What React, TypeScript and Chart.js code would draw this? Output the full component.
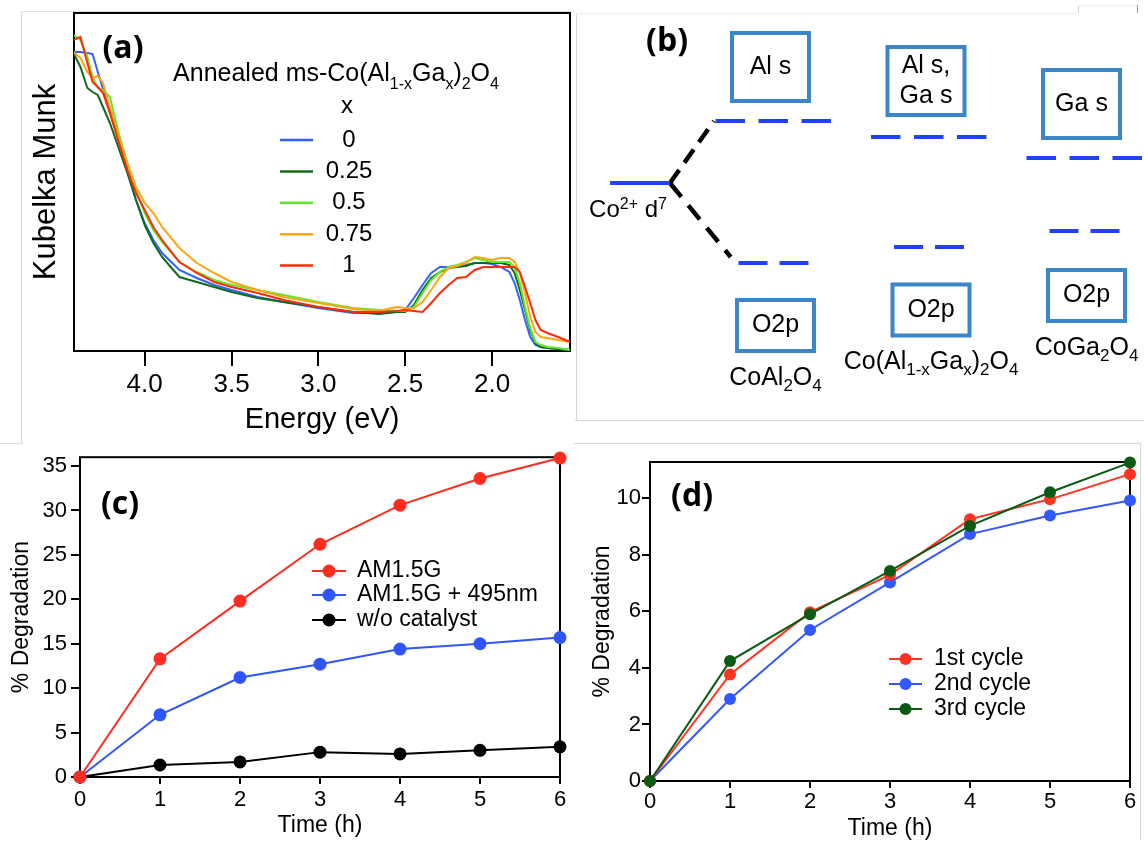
import React, { useEffect, useRef } from 'react';
import { Chart, registerables } from 'chart.js';

Chart.register(...registerables);

const SANS = '"Liberation Sans", Arial, Helvetica, sans-serif';
const BOLD = '"Open Sans", "Liberation Sans", Arial, sans-serif';
Chart.defaults.font.family = SANS;
Chart.defaults.color = '#000';

// ---------------- Panel (a): Kubelka-Munk spectra ----------------
const energies = [4.41, 4.37, 4.33, 4.30, 4.27, 4.24, 4.20, 4.15, 4.10, 4.05, 4.00, 3.95, 3.90, 3.80, 3.70, 3.60, 3.50, 3.35, 3.20, 3.00, 2.80, 2.65, 2.55, 2.50, 2.45, 2.40, 2.35, 2.30, 2.25, 2.20, 2.15, 2.10, 2.05, 2.00, 1.95, 1.90, 1.87, 1.84, 1.81, 1.78, 1.75, 1.72, 1.68, 1.62, 1.55];
const gaFractions = ['0', '0.25', '0.5', '0.75', '1'];
const kmX0 = [299, 299, 298, 297, 279, 262, 238, 211, 181, 151, 128, 111, 98, 81, 73, 66, 61, 54, 49, 43, 38, 38, 39, 41, 53, 66, 78, 84, 84, 85, 86, 88, 88, 87, 84, 79, 68, 51, 31, 14, 6, 4, 3, 2, 1];
const kmX025 = [298, 284, 263, 259, 256, 244, 228, 203, 178, 151, 126, 108, 94, 74, 69, 64, 59, 53, 49, 44, 39, 37, 39, 39, 46, 61, 73, 79, 83, 84, 85, 88, 88, 88, 88, 86, 78, 61, 41, 21, 8, 4, 3, 2, 1];
const kmX05 = [316, 311, 294, 274, 263, 261, 254, 218, 188, 161, 138, 121, 109, 89, 79, 71, 66, 61, 56, 49, 43, 41, 40, 40, 44, 58, 71, 79, 84, 86, 89, 93, 91, 89, 89, 89, 84, 68, 44, 23, 9, 6, 4, 3, 1];
const kmX075 = [299, 293, 279, 273, 275, 268, 244, 214, 188, 164, 148, 138, 124, 103, 88, 78, 69, 61, 54, 48, 42, 40, 44, 43, 43, 49, 61, 74, 83, 85, 88, 94, 93, 91, 93, 93, 89, 78, 58, 34, 19, 14, 13, 11, 9];
const kmX1 = [311, 314, 288, 269, 264, 258, 238, 209, 181, 158, 141, 124, 111, 89, 78, 69, 64, 58, 51, 44, 39, 39, 40, 41, 40, 39, 48, 58, 66, 73, 74, 81, 84, 84, 84, 84, 84, 79, 64, 48, 31, 21, 18, 14, 9];
const energyTicks = [4.0, 3.5, 3.0, 2.5, 2.0];
const energyRange = [1.551, 4.407];
const kmRange = [0, 338];

// ---------------- Panel (b): energy level scheme ----------------
const levelColumns = [1, 2, 3];
const cbOrbitals = [['Al s'], ['Al s,', 'Ga s'], ['Ga s']];
const vbOrbital = 'O2p';
const t2Levels = [3.1, 2.3, 1.25];
const eLevels = [-4.0, -3.2, -2.4];
const cbBoxLevels = [5.8, 5.1, 3.95];
const vbBoxLevels = [-7.125, -6.35, -5.625];
const d7Level = 0;

// ---------------- Panel (c) ----------------
const hours = [0, 1, 2, 3, 4, 5, 6];
const degAM15G = [0, 13.3, 19.8, 26.2, 30.6, 33.6, 35.9];
const degAM15G495 = [0, 7.0, 11.2, 12.7, 14.4, 15.0, 15.7];
const degNoCatalyst = [0, 1.35, 1.7, 2.8, 2.6, 3.0, 3.4];
const degTicksC = [0, 5, 10, 15, 20, 25, 30, 35];

// ---------------- Panel (d) ----------------
const cycle1 = [0, 3.77, 5.97, 7.29, 9.26, 9.96, 10.85];
const cycle2 = [0, 2.9, 5.34, 7.02, 8.73, 9.39, 9.92];
const cycle3 = [0, 4.24, 5.9, 7.43, 9.02, 10.21, 11.26];
const degTicksD = [0, 2, 4, 6, 8, 10];

// ---------------- helpers ----------------
type Part = { t: string; s?: 'sub' | 'sup' };

function drawRich(ctx: CanvasRenderingContext2D, parts: Part[], x: number, y: number, size: number, small: number, align: 'left' | 'center', subShift: number, supShift: number) {
  const fontFor = (p: Part) => `${p.s ? small : size}px ${SANS}`;
  let total = 0;
  for (const p of parts) { ctx.font = fontFor(p); total += ctx.measureText(p.t).width; }
  let cx = align === 'center' ? x - total / 2 : x;
  const base = y + size * 0.36;
  ctx.textAlign = 'left';
  ctx.textBaseline = 'alphabetic';
  ctx.fillStyle = '#000';
  for (const p of parts) {
    ctx.font = fontFor(p);
    const dy = p.s === 'sub' ? subShift : p.s === 'sup' ? -supShift : 0;
    ctx.fillText(p.t, cx, base + dy);
    cx += ctx.measureText(p.t).width;
  }
}

const boxPlugin = {
  id: 'plotBox',
  beforeDatasetsDraw(chart: any) {
    const { ctx, chartArea: a } = chart;
    ctx.save();
    ctx.strokeStyle = '#000';
    ctx.lineWidth = 2;
    ctx.strokeRect(a.left, a.top, a.right - a.left, a.bottom - a.top);
    ctx.restore();
  },
};

function panelLabel(text: string, x: number, y: number) {
  return {
    id: 'panelLabel' + text,
    afterDraw(chart: any) {
      const ctx = chart.ctx;
      ctx.save();
      ctx.font = `bold 32px ${BOLD}`;
      ctx.fillStyle = '#000';
      ctx.textAlign = 'center';
      ctx.textBaseline = 'middle';
      ctx.fillText(text, x, y);
      ctx.restore();
    },
  };
}

function lineLegend(items: { label: string; color: string }[], x0: number, x1: number, tx: number, ys: number[], r: number) {
  return {
    id: 'lineLegend',
    afterDraw(chart: any) {
      const ctx = chart.ctx;
      ctx.save();
      items.forEach((it, i) => {
        const y = ys[i];
        ctx.strokeStyle = it.color;
        ctx.lineWidth = 2;
        ctx.beginPath();
        ctx.moveTo(x0, y);
        ctx.lineTo(x1, y);
        ctx.stroke();
        ctx.fillStyle = it.color;
        ctx.beginPath();
        ctx.arc((x0 + x1) / 2, y, r, 0, Math.PI * 2);
        ctx.fill();
        ctx.fillStyle = '#000';
        ctx.font = `23px ${SANS}`;
        ctx.textAlign = 'left';
        ctx.textBaseline = 'middle';
        ctx.fillText(it.label, tx, y);
      });
      ctx.restore();
    },
  };
}

// ---------------- chart builders ----------------
const colorsA = ['#2f62ff', '#0f6a1a', '#5fe82a', '#ffa514', '#ff2a0a'];

function makeA(): any {
  const series = [kmX0, kmX025, kmX05, kmX075, kmX1];
  const legendA = {
    id: 'legendA',
    afterDraw(chart: any) {
      const ctx = chart.ctx;
      ctx.save();
      drawRich(ctx, [
        { t: 'Annealed ms-Co(Al' }, { t: '1-x', s: 'sub' }, { t: 'Ga' }, { t: 'x', s: 'sub' },
        { t: ')' }, { t: '2', s: 'sub' }, { t: 'O' }, { t: '4', s: 'sub' },
      ], 336, 72, 25, 16, 'center', 8, 8);
      ctx.font = `24px ${SANS}`;
      ctx.fillStyle = '#000';
      ctx.textAlign = 'center';
      ctx.textBaseline = 'middle';
      ctx.fillText('x', 347, 106);
      gaFractions.forEach((lab, i) => {
        const y = 140 + i * 31.4;
        ctx.strokeStyle = colorsA[i];
        ctx.lineWidth = 2.5;
        ctx.beginPath();
        ctx.moveTo(280, y);
        ctx.lineTo(313, y);
        ctx.stroke();
        ctx.fillStyle = '#000';
        ctx.fillText(lab, 349, y);
      });
      ctx.restore();
    },
  };
  return {
    type: 'line',
    data: {
      datasets: series.map((vals, i) => ({
        label: gaFractions[i],
        data: energies.map((e, j) => ({ x: e, y: vals[j] })),
        borderColor: colorsA[i],
        borderWidth: 2,
        pointRadius: 0,
        tension: 0,
        fill: false,
        order: 4 - i,
      })),
    },
    options: {
      responsive: false,
      animation: false,
      devicePixelRatio: 1,
      layout: { padding: { top: 13, right: 6, left: 0, bottom: 0 } },
      plugins: { legend: { display: false }, tooltip: { enabled: false } },
      scales: {
        x: {
          type: 'linear',
          reverse: true,
          min: energyRange[0],
          max: energyRange[1],
          afterBuildTicks: (s: any) => { s.ticks = energyTicks.map((v) => ({ value: v })); },
          ticks: { callback: (v: any) => Number(v).toFixed(1), font: { size: 26 }, color: '#000', padding: 3, maxRotation: 0, autoSkip: false },
          grid: { display: true, drawOnChartArea: false, drawTicks: true, tickLength: 15, color: '#000', lineWidth: 2 },
          border: { display: false },
          title: { display: true, text: 'Energy (eV)', font: { size: 29 }, color: '#000', padding: { top: 0, bottom: 3 } },
          afterFit: (s: any) => { s.height = 89; },
        },
        y: {
          type: 'linear',
          min: kmRange[0],
          max: kmRange[1],
          ticks: { display: false },
          grid: { display: false },
          border: { display: false },
          title: { display: true, text: 'Kubelka Munk', font: { size: 31 }, color: '#000', padding: { top: 28, bottom: 0 } },
          afterFit: (s: any) => { s.width = 74; },
        },
      },
    },
    plugins: [boxPlugin, panelLabel('(a)', 123, 49), legendA],
  };
}

const LEVEL_BLUE = '#2243f5';
const BOX_BLUE = '#3a86c8';
const T2_HALF = 0.373;
const E_HALF = 0.225;
const D7_START = -0.051;
const D7_END = 0.334;

function makeB(): any {
  const datasets: any[] = [];
  levelColumns.forEach((col, i) => {
    datasets.push({
      data: [{ x: col - T2_HALF, y: t2Levels[i] }, { x: col + T2_HALF, y: t2Levels[i] }],
      borderColor: LEVEL_BLUE, borderWidth: 4, borderDash: [29.5, 13.5], borderCapStyle: 'butt', pointRadius: 0, clip: false,
    });
    datasets.push({
      data: [{ x: col - E_HALF, y: eLevels[i] }, { x: col + E_HALF, y: eLevels[i] }],
      borderColor: LEVEL_BLUE, borderWidth: 4, borderDash: [29, 12], borderCapStyle: 'butt', pointRadius: 0, clip: false,
    });
  });
  datasets.push({
    data: [{ x: D7_START, y: d7Level }, { x: D7_END, y: d7Level }],
    borderColor: LEVEL_BLUE, borderWidth: 4, pointRadius: 0, clip: false,
  });
  datasets.push({
    data: [{ x: D7_END, y: d7Level }, { x: levelColumns[0] - T2_HALF - 0.01, y: t2Levels[0] }],
    borderColor: '#000', borderWidth: 4.5, borderDash: [16, 9], borderCapStyle: 'butt', pointRadius: 0, clip: false,
  });
  datasets.push({
    data: [{ x: D7_END, y: d7Level }, { x: levelColumns[0] - E_HALF - 0.05, y: eLevels[0] + 0.3 }],
    borderColor: '#000', borderWidth: 4.5, borderDash: [18, 11], borderCapStyle: 'butt', pointRadius: 0, clip: false,
  });

  const compoundParts: Part[][] = [
    [{ t: 'CoAl' }, { t: '2', s: 'sub' }, { t: 'O' }, { t: '4', s: 'sub' }],
    [{ t: 'Co(Al' }, { t: '1-x', s: 'sub' }, { t: 'Ga' }, { t: 'x', s: 'sub' }, { t: ')' }, { t: '2', s: 'sub' }, { t: 'O' }, { t: '4', s: 'sub' }],
    [{ t: 'CoGa' }, { t: '2', s: 'sub' }, { t: 'O' }, { t: '4', s: 'sub' }],
  ];

  const schemePlugin = {
    id: 'scheme',
    afterDatasetsDraw(chart: any) {
      const { ctx } = chart;
      const xs = chart.scales.x;
      const ys = chart.scales.y;
      ctx.save();
      levelColumns.forEach((col, i) => {
        const ux = xs.getPixelForValue(col) - 3;
        const uy = ys.getPixelForValue(cbBoxLevels[i]);
        ctx.strokeStyle = BOX_BLUE;
        ctx.lineWidth = 4;
        ctx.strokeRect(ux - 38.5, uy - 34, 77, 68);
        ctx.fillStyle = '#000';
        ctx.font = `25px ${SANS}`;
        ctx.textAlign = 'center';
        ctx.textBaseline = 'middle';
        const lines = cbOrbitals[i];
        lines.forEach((ln, k) => {
          ctx.fillText(ln, ux, uy + (k - (lines.length - 1) / 2) * 30);
        });
        const lx = xs.getPixelForValue(col) + 2;
        const ly = ys.getPixelForValue(vbBoxLevels[i]);
        ctx.strokeRect(lx - 38.5, ly - 25.5, 77, 51);
        ctx.fillText(vbOrbital, lx, ly);
        drawRich(ctx, compoundParts[i], lx, ly + 27.5 + 22.5, 25, 17, 'center', 6, 8);
      });
      const dx = xs.getPixelForValue(D7_START);
      drawRich(ctx, [{ t: 'Co' }, { t: '2+', s: 'sup' }, { t: ' d' }, { t: '7', s: 'sup' }], dx - 21, ys.getPixelForValue(d7Level) + 25, 24, 16, 'left', 6, 8);
      ctx.restore();
    },
  };

  return {
    type: 'line',
    data: { datasets },
    options: {
      responsive: false,
      animation: false,
      devicePixelRatio: 1,
      layout: { padding: 0 },
      plugins: { legend: { display: false }, tooltip: { enabled: false } },
      scales: {
        x: { type: 'linear', display: false, min: -0.2701, max: 3.3826 },
        y: { type: 'linear', display: false, min: -12.85, max: 9.15 },
      },
    },
    plugins: [schemePlugin, panelLabel('(b)', 91, 42)],
  };
}

function timeChart(opts: {
  series: { label: string; data: number[]; color: string; order: number }[];
  yMax: number; yTicks: number[]; pad: any; yWidth: number; xHeight: number;
  xTickLen: number; xTickPad: number; yTickLen: number; yTickPad: number;
  xTitlePad: number; yTitlePad: number; radius: number; extra: any[];
}): any {
  return {
    type: 'line',
    data: {
      datasets: opts.series.map((s) => ({
        label: s.label,
        data: hours.map((h, i) => ({ x: h, y: s.data[i] })),
        borderColor: s.color,
        backgroundColor: s.color,
        pointBackgroundColor: s.color,
        pointBorderColor: s.color,
        pointBorderWidth: 0,
        pointRadius: opts.radius,
        borderWidth: 2,
        tension: 0,
        clip: false,
        order: s.order,
      })),
    },
    options: {
      responsive: false,
      animation: false,
      devicePixelRatio: 1,
      layout: { padding: opts.pad },
      plugins: { legend: { display: false }, tooltip: { enabled: false } },
      scales: {
        x: {
          type: 'linear',
          min: hours[0],
          max: hours[hours.length - 1],
          afterBuildTicks: (s: any) => { s.ticks = hours.map((v) => ({ value: v })); },
          ticks: { font: { size: 22 }, color: '#000', padding: opts.xTickPad, maxRotation: 0, autoSkip: false },
          grid: { display: true, drawOnChartArea: false, drawTicks: true, tickLength: opts.xTickLen, color: '#000', lineWidth: 2 },
          border: { display: false },
          title: { display: true, text: 'Time (h)', font: { size: 23 }, color: '#000', padding: { top: 0, bottom: opts.xTitlePad } },
          afterFit: (s: any) => { s.height = opts.xHeight; },
        },
        y: {
          type: 'linear',
          min: 0,
          max: opts.yMax,
          afterBuildTicks: (s: any) => { s.ticks = opts.yTicks.map((v) => ({ value: v })); },
          ticks: { font: { size: 22 }, color: '#000', padding: opts.yTickPad, autoSkip: false },
          grid: { display: true, drawOnChartArea: false, drawTicks: true, tickLength: opts.yTickLen, color: '#000', lineWidth: 2 },
          border: { display: false },
          title: { display: true, text: '% Degradation', font: { size: 23 }, color: '#000', padding: { top: opts.yTitlePad, bottom: 0 } },
          afterFit: (s: any) => { s.width = opts.yWidth; },
        },
      },
    },
    plugins: [boxPlugin, ...opts.extra],
  };
}

function makeC(): any {
  const series = [
    { label: 'AM1.5G', data: degAM15G, color: '#ff2d1f', order: 0 },
    { label: 'AM1.5G + 495nm', data: degAM15G495, color: '#2f55ff', order: 1 },
    { label: 'w/o catalyst', data: degNoCatalyst, color: '#000000', order: 2 },
  ];
  return timeChart({
    series, yMax: 36, yTicks: degTicksC, pad: { top: 17, right: 16, left: 0, bottom: 0 },
    yWidth: 80, xHeight: 69, xTickLen: 7, xTickPad: 3, yTickLen: 9, yTickPad: 4,
    xTitlePad: 7, yTitlePad: 8, radius: 6.5,
    extra: [panelLabel('(c)', 120, 65), lineLegend(series, 312, 346, 357, [131, 155, 180], 6.5)],
  });
}

function makeD(): any {
  const series = [
    { label: '1st cycle', data: cycle1, color: '#ff3322', order: 1 },
    { label: '2nd cycle', data: cycle2, color: '#3358ff', order: 2 },
    { label: '3rd cycle', data: cycle3, color: '#0b5a14', order: 0 },
  ];
  return timeChart({
    series, yMax: 11.28, yTicks: degTicksD, pad: { top: 22, right: 14, left: 0, bottom: 0 },
    yWidth: 74, xHeight: 65, xTickLen: 7, xTickPad: 1, yTickLen: 8, yTickPad: 1,
    xTitlePad: 4, yTitlePad: 13, radius: 6,
    extra: [panelLabel('(d)', 116, 57), lineLegend(series, 313, 346, 358, [219, 244, 269], 6)],
  });
}

// ---------------- components ----------------
function ChartCanvas({ x, y, w, h, make }: { x: number; y: number; w: number; h: number; make: () => any }) {
  const ref = useRef<HTMLCanvasElement | null>(null);
  useEffect(() => {
    if (!ref.current) return;
    const chart = new Chart(ref.current, make());
    return () => chart.destroy();
  }, []);
  return (
    <div style={{ position: 'absolute', left: x, top: y, width: w, height: h }}>
      <canvas ref={ref} width={w} height={h} style={{ width: w, height: h, display: 'block' }} />
    </div>
  );
}

const frameLines: [number, number, number, number, string][] = [
  [21, 11, 21, 443, '#d9d9d9'],
  [21, 11, 575, 11, '#e2e2e2'],
  [0, 443, 22, 443, '#d9d9d9'],
  [576, 13, 576, 420, '#d6d6d6'],
  [576, 13, 1078, 13, '#ececec'],
  [1078, 5, 1078, 13, '#d0d0d0'],
  [1078, 5, 1137, 5, '#ececec'],
  [1137, 5, 1137, 13, '#9a9a9a'],
  [575, 420, 1144, 420, '#d6d6d6'],
  [574, 443, 1140, 443, '#d6d6d6'],
  [1140, 443, 1140, 840, '#d6d6d6'],
];

export default function App() {
  return (
    <div style={{ position: 'relative', width: 1144, height: 846, background: '#fff', overflow: 'hidden' }}>
      <style>{'body{margin:0;background:#fff;}'}</style>
      {frameLines.map(([x1, y1, x2, y2, c], i) => (
        <div key={i} style={{ position: 'absolute', left: x1, top: y1, width: Math.max(1, x2 - x1), height: Math.max(1, y2 - y1), background: c }} />
      ))}
      <ChartCanvas x={0} y={0} w={576} h={440} make={makeA} />
      <ChartCanvas x={576} y={0} w={568} h={440} make={makeB} />
      <ChartCanvas x={0} y={440} w={576} h={406} make={makeC} />
      <ChartCanvas x={576} y={440} w={568} h={406} make={makeD} />
    </div>
  );
}
